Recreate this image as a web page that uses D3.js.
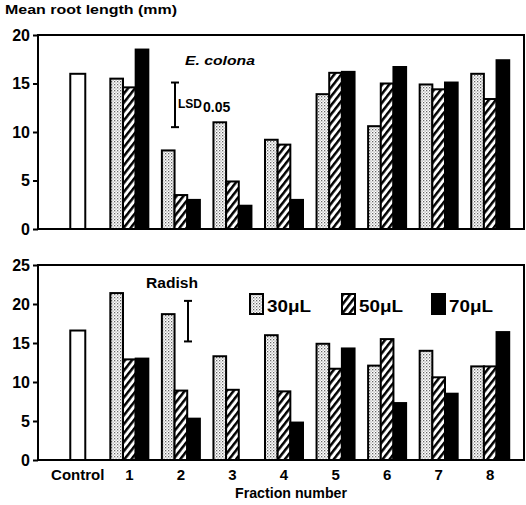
<!DOCTYPE html>
<html>
<head>
<meta charset="utf-8">
<script src="https://cdn.jsdelivr.net/npm/d3@7"></script>
<style>
  body { margin: 0; background: #fff; }
  text { font-family: "Liberation Sans", Arial, sans-serif; font-weight: bold; fill: #000; }
</style>
</head>
<body>
<svg id="chart" width="526" height="505"></svg>
<script>
// fractions along the x axis
const categories = ['Control', '1', '2', '3', '4', '5', '6', '7', '8'];
const doses = ['30', '50', '70'];

// E. colona, mean root length (mm)
const colonaControl = 16.0;
const colona30 = [15.5, 8.1, 11.0, 9.2, 13.9, 10.6, 14.9, 16.0];
const colona50 = [14.6, 3.5, 4.9, 8.7, 16.1, 15.0, 14.4, 13.4];
const colona70 = [18.5, 3.0, 2.4, 3.0, 16.2, 16.7, 15.1, 17.4];
const colonaLSD = [10.5, 15.1];

// Radish, mean root length (mm)
const radishControl = 16.6;
const radish30 = [21.4, 18.7, 13.3, 16.0, 14.9, 12.1, 14.0, 12.0];
const radish50 = [12.9, 8.9, 9.0, 8.8, 11.7, 15.5, 10.6, 12.0];
const radish70 = [13.0, 5.3, 0, 4.8, 14.3, 7.3, 8.5, 16.4];
const radishLSD = [15.2, 20.4];

const colonaTicks = [0, 5, 10, 15, 20];
const radishTicks = [0, 5, 10, 15, 20, 25];

const svg = d3.select('#chart');
const defs = svg.append('defs');

// stipple for 30 uL
const dots = defs.append('pattern')
  .attr('id', 'dots').attr('patternUnits', 'userSpaceOnUse')
  .attr('width', 3).attr('height', 3);
dots.append('rect').attr('width', 3).attr('height', 3).attr('fill', '#fff');
dots.append('rect').attr('x', 0).attr('y', 0).attr('width', 1.3).attr('height', 1.3).attr('fill', '#666');
dots.append('rect').attr('x', 1.5).attr('y', 1.5).attr('width', 1.2).attr('height', 1.2).attr('fill', '#999');

// hatch for 50 uL
const hatch = defs.append('pattern')
  .attr('id', 'hatch').attr('patternUnits', 'userSpaceOnUse')
  .attr('width', 5.5).attr('height', 5.5)
  .attr('patternTransform', 'rotate(38)');
hatch.append('rect').attr('width', 5.5).attr('height', 5.5).attr('fill', '#fff');
hatch.append('rect').attr('x', 0).attr('y', 0).attr('width', 2.5).attr('height', 5.5).attr('fill', '#000');

const fills = {'30': 'url(#dots)', '50': 'url(#hatch)', '70': '#000'};

const x = d3.scaleBand().domain(categories).range([52, 516]);
const xInner = d3.scaleBand().domain(doses).range([-19, 19]);
const left = 38, right = 524;

function panel(top, bottom, maxVal, ticks, control, s30, s50, s70) {
  const y = d3.scaleLinear().domain([0, maxVal]).range([bottom, top]);
  const g = svg.append('g');

  // bars
  const rows = [];
  categories.slice(1).forEach((c, i) => {
    rows.push({cat: c, dose: '30', v: s30[i]});
    rows.push({cat: c, dose: '50', v: s50[i]});
    rows.push({cat: c, dose: '70', v: s70[i]});
  });
  g.selectAll('rect.bar').data(rows.filter(d => d.v > 0)).join('rect')
    .attr('class', 'bar')
    .attr('x', d => x(d.cat) + x.bandwidth() / 2 + xInner(d.dose))
    .attr('width', xInner.bandwidth())
    .attr('y', d => y(d.v))
    .attr('height', d => y(0) - y(d.v))
    .attr('fill', d => fills[d.dose])
    .attr('stroke', '#000').attr('stroke-width', 2);

  g.append('rect')
    .attr('x', x('Control') + x.bandwidth() / 2 - 7.5)
    .attr('width', 15)
    .attr('y', y(control))
    .attr('height', y(0) - y(control))
    .attr('fill', '#fff').attr('stroke', '#000').attr('stroke-width', 2);

  // frame
  g.append('rect')
    .attr('x', left).attr('y', top)
    .attr('width', right - left).attr('height', bottom - top)
    .attr('fill', 'none').attr('stroke', '#000').attr('stroke-width', 2);

  // y axis
  const ax = g.append('g').attr('transform', `translate(${left},0)`)
    .call(d3.axisLeft(y).tickValues(ticks).tickSize(5).tickPadding(3));
  ax.select('.domain').remove();
  ax.selectAll('line').attr('stroke-width', 2);
  ax.selectAll('text').style('font-size', '16px')
    .style('font-family', '"Liberation Sans", Arial, sans-serif').style('font-weight', 'bold');

  return {g, y};
}

function lsdBar(p, xPos, range) {
  p.g.append('line').attr('x1', xPos).attr('x2', xPos)
    .attr('y1', p.y(range[0])).attr('y2', p.y(range[1]))
    .attr('stroke', '#000').attr('stroke-width', 2);
  p.g.selectAll('line.cap').data(range).join('line').attr('class', 'cap')
    .attr('x1', xPos - 4).attr('x2', xPos + 4)
    .attr('y1', d => p.y(d)).attr('y2', d => p.y(d))
    .attr('stroke', '#000').attr('stroke-width', 2);
}

// top: E. colona
const p1 = panel(35, 229, 20, colonaTicks, colonaControl, colona30, colona50, colona70);
lsdBar(p1, 175, colonaLSD);
const lsdText = p1.g.append('text').attr('x', 178).attr('y', 108).style('font-size', '12px');
lsdText.append('tspan').text('LSD');
lsdText.append('tspan').attr('dy', 4).attr('dx', 1).style('font-size', '14px').text('0.05');
p1.g.append('text').attr('x', 185).attr('y', 65)
  .attr('textLength', 70).attr('lengthAdjust', 'spacingAndGlyphs')
  .style('font-size', '13px').style('font-style', 'italic').text('E. colona');

// bottom: Radish
const p2 = panel(265, 460, 25, radishTicks, radishControl, radish30, radish50, radish70);
lsdBar(p2, 188, radishLSD);
p2.g.append('text').attr('x', 146).attr('y', 288)
  .attr('textLength', 52).attr('lengthAdjust', 'spacingAndGlyphs')
  .style('font-size', '14px').text('Radish');

// legend
const legendX = [250, 342, 432];
const leg = svg.append('g').selectAll('g').data(doses).join('g')
  .attr('transform', (d, i) => `translate(${legendX[i]},294)`);
leg.append('rect').attr('width', 13).attr('height', 20)
  .attr('fill', d => fills[d]).attr('stroke', '#000').attr('stroke-width', 2);
leg.append('text').attr('x', 17).attr('y', 18).style('font-size', '16px')
  .attr('textLength', 44).attr('lengthAdjust', 'spacingAndGlyphs')
  .text(d => d + '\u03bcL');

// x axis labels
const xa = svg.append('g').attr('transform', 'translate(0,460)')
  .call(d3.axisBottom(x).tickSize(0).tickPadding(9));
xa.select('.domain').remove();
xa.selectAll('text').style('font-size', '15px')
  .style('font-family', '"Liberation Sans", Arial, sans-serif').style('font-weight', 'bold');

svg.append('text').attr('x', 235).attr('y', 498)
  .attr('textLength', 112).attr('lengthAdjust', 'spacingAndGlyphs')
  .style('font-size', '14px').text('Fraction number');
svg.append('text').attr('x', 5).attr('y', 14)
  .attr('textLength', 172).attr('lengthAdjust', 'spacingAndGlyphs')
  .style('font-size', '13px').text('Mean root length (mm)');
</script>
</body>
</html>
